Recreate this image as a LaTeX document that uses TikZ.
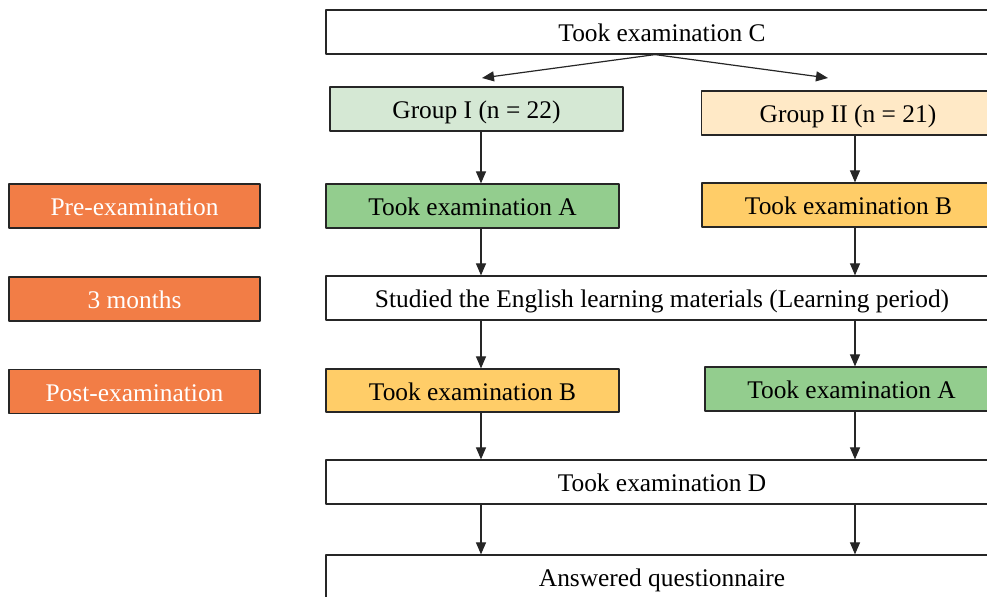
\documentclass[tikz,border=0pt]{standalone}
\usepackage{fontspec}
\setmainfont{Liberation Serif}
\usetikzlibrary{arrows.meta}

\definecolor{grponefill}{HTML}{D5E8D4}
\definecolor{grptwofill}{HTML}{FFE9C6}
\definecolor{examafill}{HTML}{93CD8E}
\definecolor{exambfill}{HTML}{FFCD68}
\definecolor{phasefill}{HTML}{F27D46}

\tikzset{
  box/.style={draw=black!85, line width=0.6pt, minimum height=22pt, inner sep=0pt,
    text height=10pt, text depth=0.2pt, font=\fontsize{12.7}{14}\selectfont},
  widebox/.style={box, minimum width=336pt},
  halfbox/.style={box, minimum width=146.5pt},
  phasebox/.style={box, fill=phasefill, text=white, minimum width=125.5pt},
  flow/.style={-{Triangle[length=6pt, width=5pt]}, line width=0.6pt, black!85}
}

\begin{document}
\begin{tikzpicture}[x=0.5pt, y=-0.5pt, line cap=round, line join=round]
  \useasboundingbox (0,0) rectangle (987,597);
  \clip (0,0) rectangle (987,597);
  % boxes of the flow
  \node[widebox] (examC) at (662,32) {Took examination C};
  \node[halfbox, fill=grponefill] (grpI) at (476.5,109) {Group I (n = 22)};
  \node[halfbox, fill=grptwofill] (grpII) at (848,113) {Group II (n = 21)};
  \node[halfbox, fill=examafill] (preA) at (472.5,206) {Took examination A};
  \node[halfbox, fill=exambfill] (preB) at (848.5,205) {Took examination B};
  \node[widebox] (study) at (662,298) {Studied the English learning materials (Learning period)};
  \node[halfbox, fill=exambfill, minimum height=21.5pt] (postB) at (472.5,390.5) {Took examination B};
  \node[halfbox, fill=examafill] (postA) at (851.5,389) {Took examination A};
  \node[widebox] (examD) at (662,482) {Took examination D};
  \node[widebox] (quest) at (662,577) {Answered questionnaire};
  % phases on the left
  \foreach \name/\ypos/\txt in {pre/206/Pre-examination, mid/299/3 months, post/391.5/Post-examination}
    \node[phasebox] (\name) at (134.5,\ypos) {\txt};
  % connectors
  \coordinate (colL) at (481,0);
  \coordinate (colR) at (855,0);
  \coordinate (tipL) at (482,78);
  \coordinate (tipR) at (828,78);
  \draw[flow] ([xshift=-3.5pt]examC.south) -- (tipL);
  \draw[flow] ([xshift=-3.5pt]examC.south) -- (tipR);
  \draw[flow] (grpI.south -| colL) -- (preA.north -| colL);
  \draw[flow] (grpII.south -| colR) -- (preB.north -| colR);
  \foreach \a/\b in {preA/study, study/postB, postB/examD, examD/quest}
    \draw[flow] (\a.south -| colL) -- (\b.north -| colL);
  \foreach \a/\b in {preB/study, study/postA, postA/examD, examD/quest}
    \draw[flow] (\a.south -| colR) -- (\b.north -| colR);
\end{tikzpicture}
\end{document}
